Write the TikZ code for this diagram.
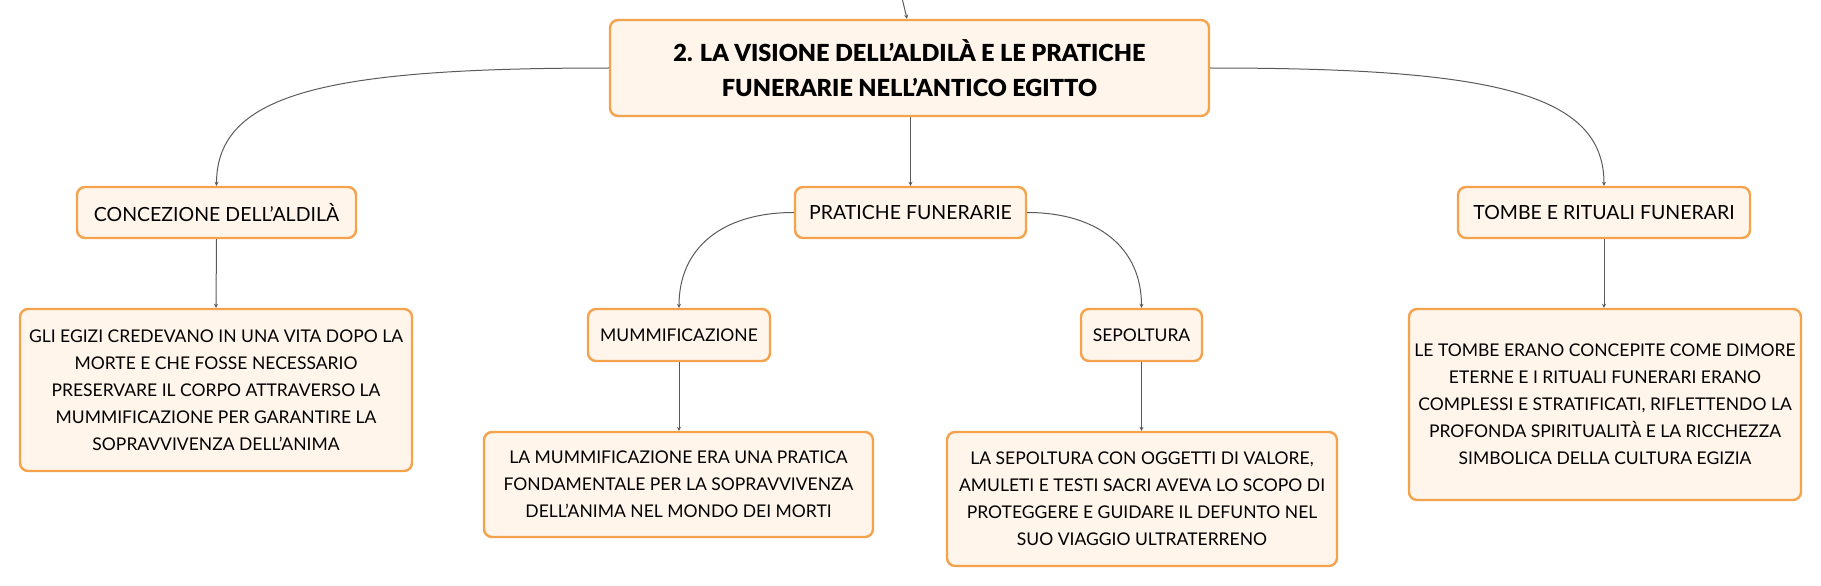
\documentclass[tikz,border=0pt]{standalone}
\usepackage{fontspec}
\setmainfont{Lato}
\newfontfamily\titlefont{Lato Black}
\usetikzlibrary{arrows.meta}
\definecolor{boxborder}{HTML}{F4A24C}
\definecolor{boxfill}{HTML}{FFF5EB}
\definecolor{linkgray}{HTML}{5A5A5A}
\tikzset{
  box/.style={draw=boxborder, fill=boxfill, line width=2.4pt, rounded corners=8pt,
    align=center, inner sep=0pt, text=black},
  titlebox/.style={box, font=\fontsize{23.5}{35}\titlefont},
  labelbox/.style={box, font=\fontsize{19.5}{24}\selectfont},
  smalllabelbox/.style={box, font=\fontsize{17.5}{24}\selectfont},
  textbox/.style={box, font=\fontsize{17.5}{27}\selectfont},
  link/.style={draw=linkgray, line width=1pt, -{Stealth[length=4pt,width=4pt]}}
}
\begin{document}
\begin{tikzpicture}[x=1pt,y=-1pt]
\useasboundingbox (0,0) rectangle (1821,586);
\node[titlebox, minimum width=599pt, minimum height=96pt] (title) at (909.5,68)
  {2. LA VISIONE DELL’ALDILÀ E LE PRATICHE\\FUNERARIE NELL’ANTICO EGITTO};
\node[labelbox, minimum width=279pt, minimum height=51pt] (conc) at (216.5,212.5) {CONCEZIONE DELL’ALDILÀ};
\node[labelbox, minimum width=231pt, minimum height=51pt] (prat) at (910.5,212.5) {PRATICHE FUNERARIE};
\node[labelbox, minimum width=292pt, minimum height=51pt] (tombe) at (1604,212.5) {TOMBE E RITUALI FUNERARI};
\node[smalllabelbox, minimum width=182pt, minimum height=52pt] (mumm) at (679,335) {MUMMIFICAZIONE};
\node[smalllabelbox, minimum width=121pt, minimum height=52pt] (sep) at (1141.5,335) {SEPOLTURA};
\node[textbox, minimum width=392pt, minimum height=162pt] (conct) at (216,390)
  {GLI EGIZI CREDEVANO IN UNA VITA DOPO LA\\MORTE E CHE FOSSE NECESSARIO\\PRESERVARE IL CORPO ATTRAVERSO LA\\MUMMIFICAZIONE PER GARANTIRE LA\\SOPRAVVIVENZA DELL’ANIMA};
\node[textbox, minimum width=389pt, minimum height=105pt] (mummt) at (678.5,484.5)
  {LA MUMMIFICAZIONE ERA UNA PRATICA\\FONDAMENTALE PER LA SOPRAVVIVENZA\\DELL’ANIMA NEL MONDO DEI MORTI};
\node[textbox, minimum width=390pt, minimum height=134pt] (sept) at (1142,499)
  {LA SEPOLTURA CON OGGETTI DI VALORE,\\AMULETI E TESTI SACRI AVEVA LO SCOPO DI\\PROTEGGERE E GUIDARE IL DEFUNTO NEL\\SUO VIAGGIO ULTRATERRENO};
\node[textbox, minimum width=392pt, minimum height=191pt] (tombet) at (1605,404.5)
  {LE TOMBE ERANO CONCEPITE COME DIMORE\\ETERNE E I RITUALI FUNERARI ERANO\\COMPLESSI E STRATIFICATI, RIFLETTENDO LA\\PROFONDA SPIRITUALITÀ E LA RICCHEZZA\\SIMBOLICA DELLA CULTURA EGIZIA};
\coordinate (top) at (902,-2);
\draw[link] (top) -- (title.north -| 907,0);
\draw[link] (title.west) .. controls (330,68) and (216.5,92) .. (conc.north);
\draw[link] (title.east) .. controls (1490,68) and (1604,92) .. (tombe.north);
\draw[link] (title.south -| prat.north) -- (prat.north);
\draw[link] (prat.west) .. controls (722,212.5) and (679,248) .. (mumm.north);
\draw[link] (prat.east) .. controls (1098,212.5) and (1141.5,248) .. (sep.north);
\draw[link] (conc.south) -- (conct.north);
\draw[link] (tombe.south) -- (tombet.north -| tombe.south);
\draw[link] (mumm.south) -- (mummt.north -| mumm.south);
\draw[link] (sep.south) -- (sept.north -| sep.south);
\end{tikzpicture}
\end{document}
